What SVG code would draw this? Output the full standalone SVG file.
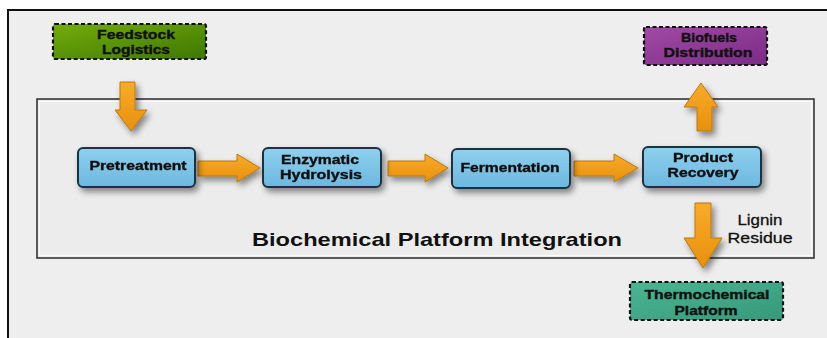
<svg xmlns="http://www.w3.org/2000/svg" width="827" height="338" viewBox="0 0 827 338">
  <defs>
    <style>
      .lbl { font-family: "Liberation Sans", Arial, sans-serif; font-weight: bold; font-size: 12px; fill: #111; text-anchor: middle; stroke: #111; stroke-width: 0.35; }
      .proc { fill: url(#blue); stroke: #1c3340; stroke-width: 2; }
      .ext { stroke: #111; stroke-width: 2.2; stroke-dasharray: 4 2.5; }
      .arrow { fill: url(#orange); stroke: #b87a10; stroke-width: 1; }
      .note { font-family: "Liberation Sans", Arial, sans-serif; font-size: 15px; fill: #111; text-anchor: middle; stroke: #111; stroke-width: 0.3; }
    </style>
    <linearGradient id="blue" x1="0" y1="0" x2="0" y2="1">
      <stop offset="0" stop-color="#8fd0ee"/>
      <stop offset="1" stop-color="#6cb8df"/>
    </linearGradient>
    <linearGradient id="green" x1="0" y1="0" x2="1" y2="1">
      <stop offset="0" stop-color="#74ac0c"/>
      <stop offset="1" stop-color="#3d7800"/>
    </linearGradient>
    <linearGradient id="purple" x1="0" y1="0" x2="1" y2="1">
      <stop offset="0" stop-color="#a14aa6"/>
      <stop offset="1" stop-color="#7a2c84"/>
    </linearGradient>
    <linearGradient id="teal" x1="0" y1="0" x2="1" y2="1">
      <stop offset="0" stop-color="#4cb592"/>
      <stop offset="1" stop-color="#36997a"/>
    </linearGradient>
    <linearGradient id="orange" x1="0" y1="0" x2="0" y2="1">
      <stop offset="0" stop-color="#f8ab2a"/>
      <stop offset="1" stop-color="#e8900c"/>
    </linearGradient>
    <filter id="shadow" x="-20%" y="-30%" width="150%" height="170%">
      <feDropShadow dx="3" dy="4" stdDeviation="3" flood-color="#000" flood-opacity="0.45"/>
    </filter>
  </defs>

  <!-- page -->
  <rect x="0" y="0" width="827" height="338" fill="#ffffff"/>
  <rect x="8" y="10" width="819" height="328" fill="#eeeeee"/>
  <path d="M8 338 V10 H827" fill="none" stroke="#111" stroke-width="2"/>

  <!-- platform frame -->
  <g id="platform">
    <rect x="37" y="99" width="777" height="159" fill="#ececec" stroke="#2a2a2a" stroke-width="1.5"/>
    <rect x="39.5" y="101.5" width="772" height="154" fill="none" stroke="#fafafa" stroke-width="1"/>
    <text x="437" y="246" font-family="Liberation Sans, Arial, sans-serif" font-weight="bold" font-size="19" fill="#111" text-anchor="middle" textLength="370" lengthAdjust="spacingAndGlyphs">Biochemical Platform Integration</text>
  </g>

  <!-- connectors -->
  <g id="connectors" filter="url(#shadow)">
    <path class="arrow" d="M120 82 H135 V110 H147 L131 131 L115 110 H120 Z"/>
    <path class="arrow" d="M198 161 H237 V154 L260 168 L237 182 V176 H198 Z"/>
    <path class="arrow" d="M388 161 H425 V154 L448 168 L425 182 V176 H388 Z"/>
    <path class="arrow" d="M574 161 H614 V154 L638 168 L614 182 V176 H574 Z"/>
    <path class="arrow" d="M697 131 H712 V107 H718 L701 83 L684 107 H697 Z"/>
    <path class="arrow" d="M695 203 H711 V238 H722 L703 268 L684 238 H695 Z"/>
  </g>
  <text class="note" x="760" y="225" textLength="45" lengthAdjust="spacingAndGlyphs">Lignin</text>
  <text class="note" x="760" y="243" textLength="65" lengthAdjust="spacingAndGlyphs">Residue</text>

  <!-- external nodes -->
  <g id="feedstock">
    <rect class="ext" x="53" y="24" width="153" height="35" rx="2" fill="url(#green)"/>
    <text class="lbl" x="136" y="39" textLength="78" lengthAdjust="spacingAndGlyphs">Feedstock</text>
    <text class="lbl" x="136" y="54" textLength="68" lengthAdjust="spacingAndGlyphs">Logistics</text>
  </g>
  <g id="biofuels">
    <rect class="ext" x="644" y="27" width="123" height="38" rx="2" fill="url(#purple)"/>
    <text class="lbl" x="709" y="42" textLength="56" lengthAdjust="spacingAndGlyphs">Biofuels</text>
    <text class="lbl" x="708" y="57" textLength="89" lengthAdjust="spacingAndGlyphs">Distribution</text>
  </g>
  <g id="thermochemical">
    <rect class="ext" x="630" y="282" width="153" height="38" rx="2" fill="url(#teal)"/>
    <text class="lbl" x="707" y="299" textLength="125" lengthAdjust="spacingAndGlyphs">Thermochemical</text>
    <text class="lbl" x="706" y="315" textLength="63" lengthAdjust="spacingAndGlyphs">Platform</text>
  </g>

  <!-- process steps -->
  <g id="pretreatment" filter="url(#shadow)">
    <rect class="proc" x="78" y="148" width="117" height="39" rx="5"/>
    <text class="lbl" x="138" y="170" textLength="97" lengthAdjust="spacingAndGlyphs">Pretreatment</text>
  </g>
  <g id="hydrolysis" filter="url(#shadow)">
    <rect class="proc" x="263" y="148" width="118" height="39" rx="5"/>
    <text class="lbl" x="320" y="164" textLength="78" lengthAdjust="spacingAndGlyphs">Enzymatic</text>
    <text class="lbl" x="321" y="179" textLength="82" lengthAdjust="spacingAndGlyphs">Hydrolysis</text>
  </g>
  <g id="fermentation" filter="url(#shadow)">
    <rect class="proc" x="452" y="149" width="118" height="39" rx="5"/>
    <text class="lbl" x="510" y="172" textLength="99" lengthAdjust="spacingAndGlyphs">Fermentation</text>
  </g>
  <g id="recovery" filter="url(#shadow)">
    <rect class="proc" x="643" y="147" width="118" height="40" rx="5"/>
    <text class="lbl" x="703" y="162" textLength="60" lengthAdjust="spacingAndGlyphs">Product</text>
    <text class="lbl" x="703" y="177" textLength="71" lengthAdjust="spacingAndGlyphs">Recovery</text>
  </g>
</svg>
